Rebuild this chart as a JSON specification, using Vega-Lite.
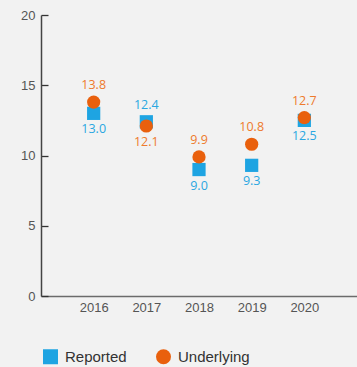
{
  "$schema": "https://vega.github.io/schema/vega-lite/v6.json",
  "autosize": {"type": "none"},
  "width": 316,
  "height": 281,
  "padding": {"left": 41, "top": 15, "right": 0, "bottom": 71},
  "background": "#f2f2f2",
  "config": {
    "view": {"stroke": null},
    "axis": {"grid": false, "labelFont": "Liberation Sans", "labelFontSize": 13, "labelColor": "#555555", "titleFontSize": 0},
    "legend": {
      "title": null, "orient": "none", "direction": "horizontal",
      "legendX": 2, "legendY": 334,
      "symbolSize": 225, "symbolOpacity": 1, "symbolStrokeWidth": 0,
      "labelFont": "Liberation Sans", "labelFontSize": 15, "labelColor": "#333333",
      "labelOffset": 7, "columnPadding": 29
    }
  },
  "data": {
    "values": [
      {"year": "2016", "series": "Reported", "value": 13.0},
      {"year": "2016", "series": "Underlying", "value": 13.8},
      {"year": "2017", "series": "Reported", "value": 12.4},
      {"year": "2017", "series": "Underlying", "value": 12.1},
      {"year": "2018", "series": "Reported", "value": 9.0},
      {"year": "2018", "series": "Underlying", "value": 9.9},
      {"year": "2019", "series": "Reported", "value": 9.3},
      {"year": "2019", "series": "Underlying", "value": 10.8},
      {"year": "2020", "series": "Reported", "value": 12.5},
      {"year": "2020", "series": "Underlying", "value": 12.7}
    ]
  },
  "transform": [
    {"joinaggregate": [{"op": "max", "field": "value", "as": "yearMax"}], "groupby": ["year"]}
  ],
  "encoding": {
    "x": {
      "field": "year", "type": "ordinal", "title": null,
      "scale": {"type": "point", "padding": 1.08},
      "axis": {"labelAngle": 0, "ticks": false, "labelPadding": 5, "domainColor": "#6b6b6b", "domainWidth": 1.6}
    },
    "y": {
      "field": "value", "type": "quantitative", "title": null,
      "scale": {"domain": [0, 20], "nice": false, "zero": true},
      "axis": {"values": [0, 5, 10, 15, 20], "tickSize": -7, "tickColor": "#333333", "tickWidth": 1.3, "labelPadding": 13, "domainColor": "#444444", "domainWidth": 1.5}
    }
  },
  "layer": [
    {
      "mark": {"type": "point", "filled": true, "opacity": 1, "size": 175},
      "encoding": {
        "shape": {
          "field": "series", "type": "nominal",
          "scale": {"domain": ["Reported", "Underlying"], "range": ["square", "circle"]}
        },
        "color": {
          "field": "series", "type": "nominal",
          "scale": {"domain": ["Reported", "Underlying"], "range": ["#1ea4e2", "#e9600d"]}
        }
      }
    },
    {
      "transform": [{"filter": "datum.value == datum.yearMax"}],
      "mark": {"type": "text", "dy": -17, "font": "Open Sans", "fontSize": 12.5},
      "encoding": {
        "text": {"field": "value", "type": "quantitative", "format": ".1f"},
        "color": {"condition": {"test": "datum.series == 'Reported'", "value": "#2aa7e1"}, "value": "#ee7a2c"}
      }
    },
    {
      "transform": [{"filter": "datum.value < datum.yearMax"}],
      "mark": {"type": "text", "dy": 16, "font": "Open Sans", "fontSize": 12.5},
      "encoding": {
        "text": {"field": "value", "type": "quantitative", "format": ".1f"},
        "color": {"condition": {"test": "datum.series == 'Reported'", "value": "#2aa7e1"}, "value": "#ee7a2c"}
      }
    }
  ]
}
